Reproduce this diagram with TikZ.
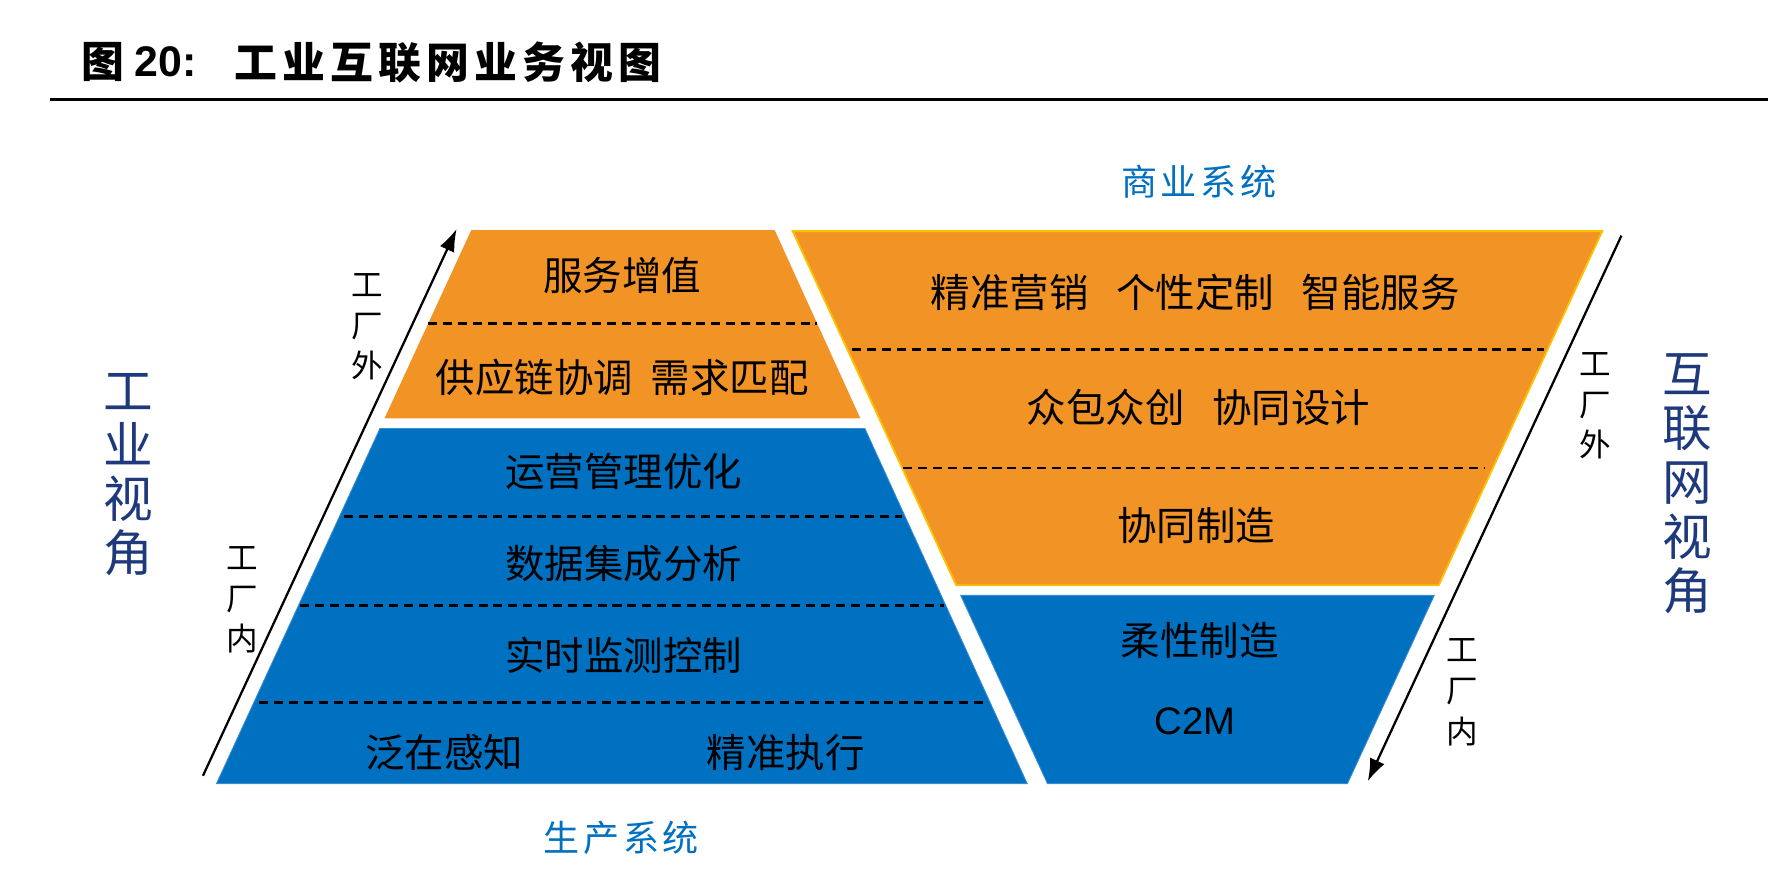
\documentclass[tikz,border=0pt]{standalone}
\usepackage{fontspec}
\newfontfamily\cjk{Noto Sans CJK SC}
\newfontfamily\cjkls[LetterSpace=10]{Noto Sans CJK SC}
\newfontfamily\cjktitle[LetterSpace=12]{Noto Sans CJK SC}
\newfontfamily\arial{Liberation Sans}
\usetikzlibrary{arrows.meta}
\definecolor{orng}{HTML}{F29325}
\definecolor{bluefill}{HTML}{0070C0}
\definecolor{blueedge}{HTML}{3A8CD2}
\definecolor{navy}{RGB}{30,58,125}
\definecolor{yel}{HTML}{FFC000}
\definecolor{sysblue}{HTML}{0070C0}
\begin{document}
\begin{tikzpicture}[x=0.5pt,y=-0.5pt,
  orangepart/.style={fill=orng},
  orangeframed/.style={fill=orng,draw=yel,line width=0.8pt},
  bluepart/.style={fill=bluefill,draw=blueedge,line width=0.4pt},
  dashsep/.style={line width=1.2pt,dash pattern=on 4pt off 2.6pt},
  layertext/.style={font=\cjk\fontsize{17.5}{21}\selectfont,text=black,inner sep=0pt},
  latintext/.style={font=\arial\fontsize{17}{20}\selectfont,text=black,inner sep=0pt},
  sidelabel/.style={font=\cjk\fontsize{14}{18}\selectfont,align=center,inner sep=0pt},
  viewlabel/.style={font=\cjk\fontsize{22}{24}\selectfont,text=navy,align=center,inner sep=0pt},
  syslabel/.style={font=\cjkls\fontsize{16}{19}\selectfont,text=sysblue,inner sep=0pt},
  titlepart/.style={anchor=west,inner sep=0pt},
  axisarrow/.style={line width=1pt,-{Latex[length=10pt,width=7pt]}},
]
\useasboundingbox (0,0) rectangle (1568,787.55);

% title and rule
\node[titlepart,font=\cjk\bfseries\fontsize{19}{22}\selectfont] (tfig) at (72,55) {图};
\node[titlepart,font=\arial\bfseries\fontsize{19}{22}\selectfont] (tnum) at (119,55) {20:};
\node[titlepart,font=\cjktitle\bfseries\fontsize{19}{22}\selectfont] (ttext) at (208,55) {工业互联网业务视图};
\coordinate (rl) at (44,88);
\coordinate (rr) at (1568,88);
\draw[line width=1.2pt] (rl) -- (rr);

% left pyramid
\fill[orangepart] (418,204) -- (687,204) -- (763,371) -- (341,371) -- cycle;
\filldraw[bluepart] (337,380) -- (767,380) -- (911,695) -- (192,695) -- cycle;
\draw[dashsep] (380,287) -- (725,287);
\draw[dashsep] (305,458) -- (800,458);
\draw[dashsep] (266,537) -- (837,537);
\draw[dashsep] (230,623) -- (875,623);

% right funnel
\filldraw[orangeframed] (703,205) -- (1421,205) -- (1276,519) -- (848,519) -- cycle;
\filldraw[bluepart] (852,528) -- (1272,528) -- (1195,695) -- (929,695) -- cycle;
\draw[dashsep] (756,310) -- (1369,310);
\draw[dashsep] (801,415) -- (1316,415);

% layer texts
\node[layertext] (fwzz) at (552,244) {服务增值};
\node[layertext] (gyl) at (552,335) {供应链协调\hspace{0.45em}需求匹配};
\node[layertext] (yy) at (553,418) {运营管理优化};
\node[layertext] (sj) at (553,500) {数据集成分析};
\node[layertext] (ss) at (553,581) {实时监测控制};
\node[layertext] (fz) at (394,667) {泛在感知};
\node[layertext] (jz) at (697,667) {精准执行};
\node[layertext] (jzyx) at (1060,259) {精准营销\hspace{0.7em}个性定制\hspace{0.7em}智能服务};
\node[layertext] (zb) at (1063,361) {众包众创\hspace{0.7em}协同设计};
\node[layertext] (xtzz) at (1061,466) {协同制造};
\node[layertext] (rx) at (1064,568) {柔性制造};
\node[latintext] (c2m) at (1060,640) {C2M};

% system labels
\node[syslabel] (sysbiz) at (1063,161) {商业系统};
\node[syslabel] (sysprod) at (551,743) {生产系统};

% view labels
\node[viewlabel] (gyview) at (114,421) {工\\业\\视\\角};
\node[viewlabel] (hlwview) at (1496,429) {互\\联\\网\\视\\角};

% side labels
\node[sidelabel] (lout) at (326,290) {工\\厂\\外};
\node[sidelabel] (lin) at (215,532) {工\\厂\\内};
\node[sidelabel] (rout) at (1415,360) {工\\厂\\外};
\node[sidelabel] (rin) at (1297,614) {工\\厂\\内};

% arrows
\coordinate (la0) at (180,688);
\coordinate (la1) at (405,203);
\draw[axisarrow] (la0) -- (la1);
\coordinate (ra0) at (1438,209);
\coordinate (ra1) at (1213,693);
\draw[axisarrow] (ra0) -- (ra1);
\end{tikzpicture}
\end{document}
